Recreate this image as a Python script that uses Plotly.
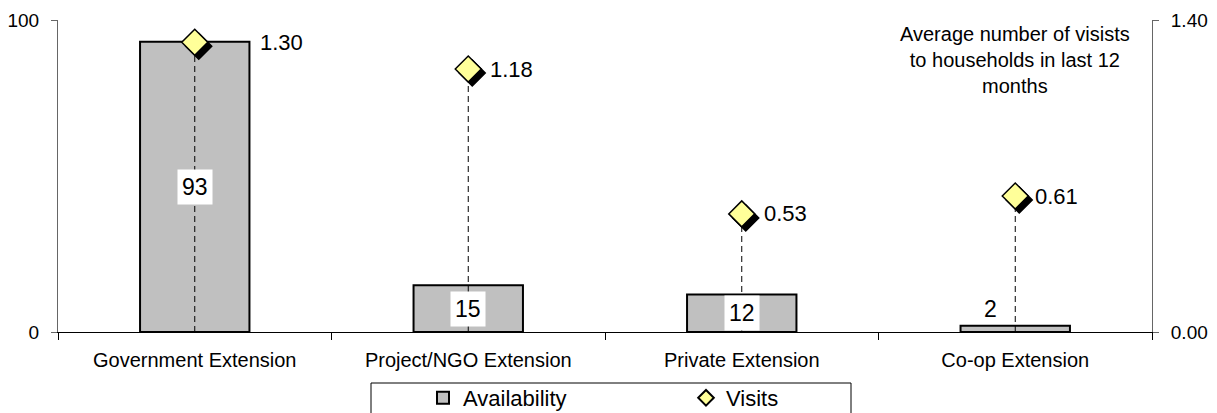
import plotly.graph_objects as go

categories = ["Government Extension", "Project/NGO Extension", "Private Extension", "Co-op Extension"]
availability = [93, 15, 12, 2]
visits = [1.30, 1.18, 0.53, 0.61]
left_ticks = [0, 100]
right_ticks = [0.0, 1.4]
note_text = "Average number of visists<br>to households in last 12<br>months"

FONT = "Liberation Sans, Arial, sans-serif"
BAR_FILL = "#C0C0C0"
DIAMOND = "#FFFF99"

# page body has an 8px margin; the figure starts at (8, 8) in the window
W, H = 1217 - 8, 413 - 8
ML, MT = 58 - 8, 20 - 8
MR = W - (1152 - 8)
MB = H - (332 - 8)
plot_w = W - ML - MR
plot_h = H - MT - MB
cat_px = plot_w / len(categories)
shadow_px = 4
dx = shadow_px / cat_px
dy = shadow_px * (right_ticks[1] - right_ticks[0]) / plot_h


def px_x(page_x):
    return (page_x - 8 - ML) / plot_w


def px_y(page_y):
    return (H - MB - (page_y - 8)) / plot_h


fig = go.Figure()

fig.add_trace(go.Bar(
    x=categories, y=availability, name="Availability",
    width=0.4,
    marker=dict(color=BAR_FILL, line=dict(color="black", width=2)),
    xaxis="x", yaxis="y", hoverinfo="skip",
))

# dashed drop lines from visits markers to the axis
dx_list, dy_list = [], []
for c, v in zip(categories, visits):
    dx_list += [c, c, None]
    dy_list += [0, v, None]
fig.add_trace(go.Scatter(
    x=dx_list, y=dy_list, mode="lines", showlegend=False,
    line=dict(color="black", width=1, dash="6px,4px"),
    xaxis="x", yaxis="y2", hoverinfo="skip",
))

# shadow of diamonds
fig.add_trace(go.Scatter(
    x=categories, y=visits, mode="markers", showlegend=False,
    marker=dict(symbol="diamond", size=20, color="black", line=dict(color="black", width=1.5)),
    xaxis="x2", yaxis="y3", hoverinfo="skip",
))

fig.add_trace(go.Scatter(
    x=categories, y=visits, mode="markers", name="Visits",
    marker=dict(symbol="diamond", size=20, color=DIAMOND, line=dict(color="black", width=1.5)),
    xaxis="x3", yaxis="y2", hoverinfo="skip",
))

annotations = []
for c, a in zip(categories, availability):
    if a >= 10:
        annotations.append(dict(
            x=c, y=a / 2, xref="x", yref="y", text=str(a), showarrow=False,
            font=dict(family=FONT, size=23, color="black"),
            bgcolor="white", borderpad=4, yanchor="middle",
        ))
    else:
        annotations.append(dict(
            x=c, y=a, xref="x", yref="y", text=str(a), showarrow=False,
            font=dict(family=FONT, size=23, color="black"),
            yanchor="bottom", yshift=2, xshift=-25,
        ))

label_shift = [63, 20, 20, 18]
for c, v, s in zip(categories, visits, label_shift):
    annotations.append(dict(
        x=c, y=v, xref="x", yref="y2", text=f"{v:.2f}", showarrow=False,
        font=dict(family=FONT, size=22, color="black"),
        xanchor="left", xshift=s, yanchor="middle",
    ))

annotations.append(dict(
    x=categories[-1], y=px_y(60), xref="x", yref="paper", text=note_text,
    showarrow=False, font=dict(family=FONT, size=20, color="black"),
    align="center", xanchor="center", yanchor="middle",
))

axis_font = dict(family=FONT, size=20, color="black")
yaxis_font = dict(family=FONT, size=19, color="black")

fig.update_layout(
    width=W, height=H,
    margin=dict(l=ML, r=MR, t=MT, b=MB, autoexpand=False),
    plot_bgcolor="white", paper_bgcolor="white",
    font=dict(family=FONT, color="black"),
    xaxis=dict(
        type="category", categoryorder="array", categoryarray=categories,
        range=[-0.5, len(categories) - 0.5],
        tickson="boundaries", ticks="outside", ticklen=7, tickcolor="black",
        showline=True, linecolor="black", linewidth=1,
        showgrid=False, zeroline=False, tickfont=axis_font, ticklabelstandoff=10,
    ),
    yaxis=dict(
        range=[left_ticks[0], left_ticks[-1]], tickvals=left_ticks,
        ticks="outside", ticklen=6, tickcolor="#666666",
        showline=True, linecolor="#666666", linewidth=1,
        showgrid=False, zeroline=False, tickfont=yaxis_font, ticklabelstandoff=8,
    ),
    yaxis2=dict(
        overlaying="y", side="right", anchor="x",
        range=[right_ticks[0], right_ticks[-1]], tickvals=right_ticks,
        ticktext=[f"{t:.2f}" for t in right_ticks],
        ticks="outside", ticklen=6, tickcolor="#666666",
        showline=True, linecolor="#666666", linewidth=1,
        showgrid=False, zeroline=False, tickfont=yaxis_font, ticklabelstandoff=8,
    ),
    xaxis2=dict(
        overlaying="x", anchor="y3", type="category", categoryorder="array",
        categoryarray=categories,
        range=[-0.5 - dx, len(categories) - 0.5 - dx], visible=False,
    ),
    yaxis3=dict(
        overlaying="y", anchor="x2",
        range=[right_ticks[0] + dy, right_ticks[-1] + dy], visible=False,
    ),
    xaxis3=dict(
        overlaying="x", anchor="y2", type="category", categoryorder="array",
        categoryarray=categories,
        range=[-0.5, len(categories) - 0.5], visible=False,
    ),
    legend=dict(
        orientation="h", x=px_x(423), xanchor="left", y=px_y(398), yanchor="middle",
        font=dict(family=FONT, size=22, color="black"),
        itemsizing="constant", entrywidth=218, bgcolor="rgba(0,0,0,0)",
        traceorder="normal",
    ),
    annotations=annotations,
    shapes=[dict(
        type="rect", xref="paper", yref="paper",
        x0=px_x(371), x1=px_x(851),
        y0=px_y(420), y1=px_y(383),
        line=dict(color="black", width=1), fillcolor="rgba(0,0,0,0)",
    )],
)

fig.write_html("out.html")
